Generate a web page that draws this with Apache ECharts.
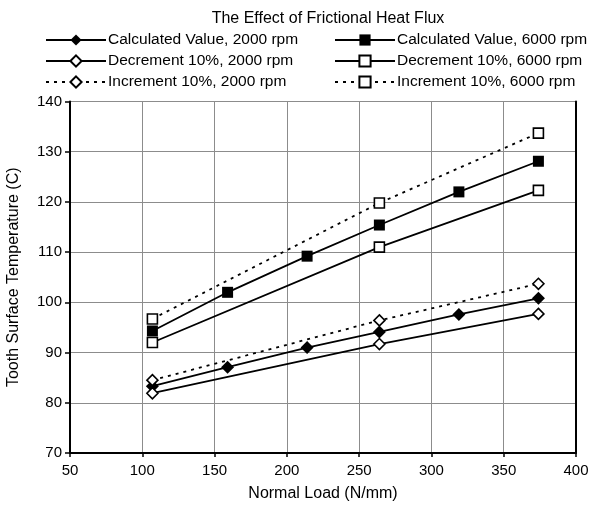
<!DOCTYPE html>
<html><head><meta charset="utf-8">
<script src="https://cdn.jsdelivr.net/npm/echarts@6/dist/echarts.min.js"></script>
<style>html,body{margin:0;padding:0;background:#fff}#c{width:591px;height:508px}</style>
</head><body><div id="c"></div>
<script>
var loadsCalc = [107, 159, 214, 264, 319, 374];
var loadsPct = [107, 264, 374];
var calc2000 = [83.3, 87.1, 91.0, 94.1, 97.6, 100.8];
var calc6000 = [94.3, 102.0, 109.2, 115.4, 122.0, 128.1];
var dec2000 = [81.9, 91.7, 97.7];
var dec6000 = [92.0, 111.0, 122.3];
var inc2000 = [84.5, 96.4, 103.7];
var inc6000 = [96.7, 119.8, 133.7];
var xTicks = [50, 100, 150, 200, 250, 300, 350, 400];
var yTicks = [70, 80, 90, 100, 110, 120, 130, 140];

var names = ['Calculated Value, 2000 rpm','Decrement 10%, 2000 rpm','Increment 10%, 2000 rpm',
             'Calculated Value, 6000 rpm','Decrement 10%, 6000 rpm','Increment 10%, 6000 rpm'];
function pairs(xs, ys){ return xs.map(function(x,i){return [x, ys[i]];}); }
var FONT = 'Liberation Sans, Arial, sans-serif';
function mk(name, xs, ys, symbol, size, filled, dashed){
  return {
    name: name, type: 'line', data: pairs(xs, ys),
    symbol: symbol, symbolSize: size,
    itemStyle: {color: filled ? '#000' : '#fff', borderColor: '#000', borderWidth: filled ? 0 : 1.6},
    lineStyle: {color: '#000', width: 1.8, type: dashed ? [3, 5] : 'solid'},
    z: 3
  };
}
var series = [
  mk(names[0], loadsCalc, calc2000, 'diamond', 13, true, false),
  mk(names[1], loadsPct, dec2000, 'diamond', 11, false, false),
  mk(names[2], loadsPct, inc2000, 'diamond', 11, false, true),
  mk(names[3], loadsCalc, calc6000, 'rect', 11, true, false),
  mk(names[4], loadsPct, dec6000, 'rect', 10, false, false),
  mk(names[5], loadsPct, inc6000, 'rect', 10, false, true)
];
var legendBase = {orient:'vertical', itemWidth: 60, itemHeight: 14, itemGap: 5,
  textStyle:{fontFamily: FONT, fontSize: 15.5, color:'#000', padding:[0,0,0,-3]}, padding: 0};
var chart = echarts.init(document.getElementById('c'), null, {renderer:'canvas'});
chart.setOption({
  animation: false,
  backgroundColor: '#fff',
  title: {text: 'The Effect of Frictional Heat Flux', left: 323, textAlign: 'center', top: 6,
    textStyle: {fontFamily: FONT, fontSize: 16, fontWeight: 'normal', color: '#000'}},
  legend: [
    Object.assign({}, legendBase, {left: 45, top: 32, data: names.slice(0,3)}),
    Object.assign({}, legendBase, {left: 334, top: 32, data: names.slice(3,6)})
  ],
  grid: {left: 70, right: 15, top: 101.5, bottom: 55, containLabel: false, outerBoundsMode: 'none'},
  xAxis: {type:'value', min: xTicks[0], max: xTicks[xTicks.length-1], interval: 50,
    name: 'Normal Load (N/mm)', nameLocation:'middle', nameGap: 33,
    nameTextStyle:{fontFamily: FONT, fontSize: 16, color:'#000'},
    axisLine:{lineStyle:{color:'#000', width:2}},
    axisTick:{show:true, length:4, lineStyle:{color:'#000', width:1.5}},
    axisLabel:{fontFamily: FONT, fontSize: 15, color:'#000', margin: 10},
    splitLine:{show:true, lineStyle:{color:'#8c8c8c', width:1}}},
  yAxis: [{type:'value', min: yTicks[0], max: yTicks[yTicks.length-1], interval: 10,
    name: 'Tooth Surface Temperature (C)', nameLocation:'middle', nameGap: 48,
    nameTextStyle:{fontFamily: FONT, fontSize: 16, color:'#000'},
    axisLine:{show:true, lineStyle:{color:'#000', width:2}},
    axisTick:{show:true, length:5, lineStyle:{color:'#000', width:1.5}},
    axisLabel:{fontFamily: FONT, fontSize: 15, color:'#000', margin: 8},
    splitLine:{show:true, lineStyle:{color:'#8c8c8c', width:1}}},
    {type:'value', position:'right', min: yTicks[0], max: yTicks[yTicks.length-1], interval: 10,
    axisLine:{show:true, lineStyle:{color:'#000', width:2}},
    axisTick:{show:false}, axisLabel:{show:false}, splitLine:{show:false}}],
  series: series
});
</script></body></html>
